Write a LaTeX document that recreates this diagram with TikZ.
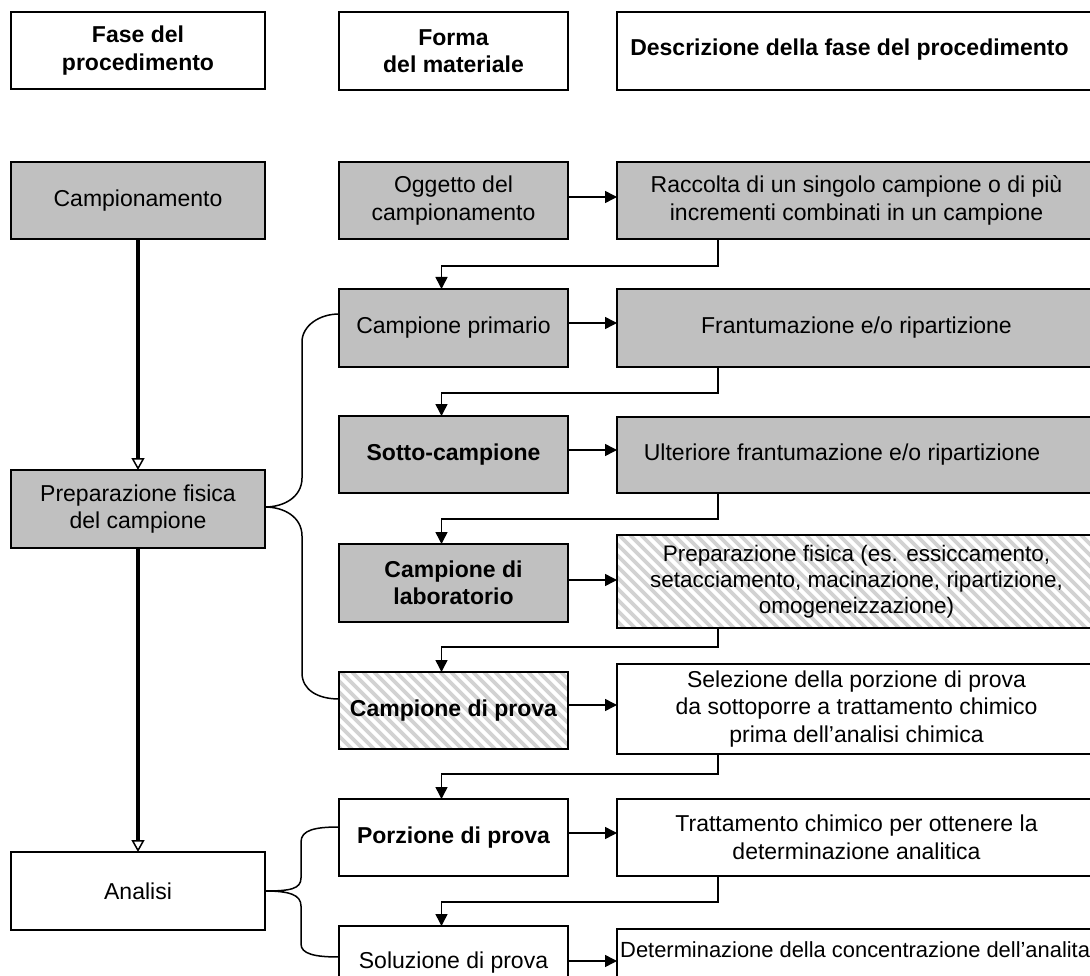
\documentclass[tikz,border=0pt]{standalone}
\usepackage{fontspec}
\setmainfont{Liberation Sans}
\usetikzlibrary{arrows.meta}
\definecolor{boxgray}{RGB}{192,192,192}
\definecolor{stripegray}{RGB}{210,210,210}
\newcommand\boxfont{\fontsize{23}{27.5}\selectfont}

\begin{document}
\begin{tikzpicture}[x=1pt,y=-1pt,
  box/.style={draw, line width=1.6pt, inner sep=0pt, outer sep=0pt,
    align=center, font=\boxfont, anchor=north west},
  sz/.style 2 args={minimum width=#1pt, minimum height=#2pt},
  bold/.style={font=\boxfont\bfseries},
  gbox/.style={box, fill=boxgray},
  wbox/.style={box, fill=white},
  hbox/.style={box, fill=white, path picture={
      \foreach \k in {0,...,75}{
        \draw[line width=3.6pt, stripegray]
          ([xshift={\k*11pt-130pt}]path picture bounding box.north west) -- ++(140,140);
      }}},
  conn/.style={line width=1.5pt, -{Triangle[length=12pt,width=12pt]}},
  brace/.style={line width=1.5pt},
  trunk/.style={line width=3.6pt,
    -{Triangle[length=12pt,width=13pt,fill=white,line width=1.5pt]}},
]
\clip (0,0) rectangle (1090,976);

% column headings
\node[wbox,bold,sz={254}{77}] (h1) at (11,12) {Fase del\\procedimento};
\node[wbox,bold,sz={229}{78}] (h2) at (339,12) {Forma\\del materiale};
\node[wbox,bold,sz={479}{78}] (h3) at (617,12)
  {\raisebox{7pt}{Descrizione della fase del procedimento}\hspace{14pt}};

% procedure phases
\node[gbox,sz={254}{77}] (camp) at (11,162) {Campionamento};
\node[gbox,sz={254}{78}] (prep) at (11,470) {Preparazione fisica\\del campione};
\node[wbox,sz={254}{78}] (anal) at (11,852) {Analisi};

% material forms
\node[gbox,sz={229}{77}] (o1) at (339,162) {Oggetto del\\campionamento};
\node[gbox,sz={229}{78}] (o2) at (339,289) {Campione primario};
\node[gbox,bold,sz={229}{77}] (o3) at (339,416) {Sotto-campione};
\node[gbox,bold,sz={229}{78}] (o4) at (339,544) {Campione di\\laboratorio};
\node[hbox,bold,sz={229}{77}] (o5) at (339,672) {Campione di prova};
\node[wbox,bold,sz={229}{77}] (o6) at (339,799) {Porzione di prova};
\node[wbox,sz={229}{77}] (o7) at (339,926) {\raisebox{9pt}{Soluzione di prova}};

% step descriptions
\node[gbox,sz={479}{77}] (r1) at (617,162)
  {Raccolta di un singolo campione o di più\\incrementi combinati in un campione};
\node[gbox,sz={479}{78}] (r2) at (617,289) {Frantumazione e/o ripartizione};
\node[gbox,sz={479}{76}] (r3) at (617,417)
  {Ulteriore frantumazione e/o ripartizione\hspace{29pt}};
\node[hbox,sz={479}{93},font=\fontsize{22.5}{26}\selectfont] (r4) at (617,535)
  {Preparazione fisica (es. essiccamento,\\setacciamento, macinazione, ripartizione,\\omogeneizzazione)};
\node[wbox,sz={479}{90}] (r5) at (617,664)
  {Selezione della porzione di prova\\da sottoporre a trattamento chimico\\prima dell’analisi chimica};
\node[wbox,sz={479}{77}] (r6) at (617,799)
  {Trattamento chimico per ottenere la\\determinazione analitica};
\node[wbox,sz={479}{77}] (r7) at (617,929) {};
\node[anchor=west, inner sep=0pt, font=\fontsize{21.9}{26}\selectfont] (r7t) at (620,950)
  {Determinazione della concentrazione dell’analita};

% main sequence of phases
\draw[trunk] (camp.south) -- (prep.north);
\draw[trunk] (prep.south) -- (anal.north);

% material form -> description
\draw[conn] ([yshift=3.5pt]o1.east) -- ([yshift=3.5pt]o1.east -| r1.west);
\draw[conn] ([yshift=5pt]o2.east) -- ([yshift=5pt]o2.east -| r2.west);
\draw[conn] ([yshift=4.5pt]o3.east) -- ([yshift=4.5pt]o3.east -| r3.west);
\draw[conn] ([yshift=3pt]o4.east) -- ([yshift=3pt]o4.east -| r4.west);
\draw[conn] ([yshift=5.5pt]o5.east) -- ([yshift=5.5pt]o5.east -| r5.west);
\draw[conn] ([yshift=4.5pt]o6.east) -- ([yshift=4.5pt]o6.east -| r6.west);
\draw[conn] ([yshift=3.5pt]o7.east) -- ([yshift=3.5pt]o7.east -| r7.west);

% description -> next material form
\draw[conn] ([xshift=101pt]r1.south west) -- ++(0,27) -| ([xshift=-12pt]o2.north);
\draw[conn] ([xshift=101pt]r2.south west) -- ++(0,26) -| ([xshift=-12pt]o3.north);
\draw[conn] ([xshift=101pt]r3.south west) -- ++(0,26) -| ([xshift=-12pt]o4.north);
\draw[conn] ([xshift=101pt]r4.south west) -- ++(0,19) -| ([xshift=-12pt]o5.north);
\draw[conn] ([xshift=101pt]r5.south west) -- ++(0,20) -| ([xshift=-12pt]o6.north);
\draw[conn] ([xshift=101pt]r6.south west) -- ++(0,26) -| ([xshift=-12pt]o7.north);

% braces grouping material forms under a phase
\draw[brace] ([yshift=14pt]o2.west) .. controls (319,314) and (302,326) .. (302,342)
  -- (302,478) .. controls (302,497) and (284,507) .. ([yshift=2pt]prep.east)
  .. controls (284,507) and (302,517) .. (302,536)
  -- (302,673) .. controls (302,690) and (318,699) .. ([yshift=11.5pt]o5.west);
\draw[brace] ([yshift=10.5pt]o6.west) .. controls (315,827) and (301,830) .. (301,842)
  -- (301,878) .. controls (301,889) and (290,891) .. (anal.east)
  .. controls (290,891) and (301,895) .. (301,906)
  -- (301,944) .. controls (301,954) and (315,957) .. ([yshift=7.5pt]o7.west);
\end{tikzpicture}
\end{document}
